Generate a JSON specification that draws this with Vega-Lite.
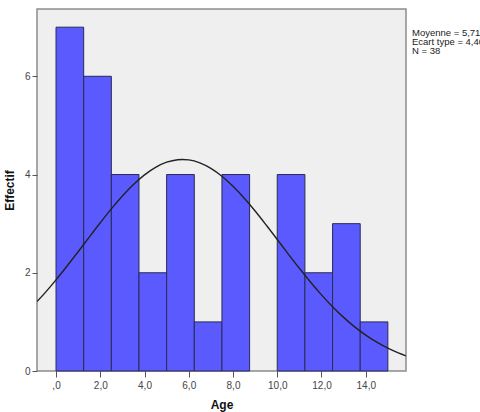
{
  "$schema": "https://vega.github.io/schema/vega-lite/v6.json",
  "width": 369,
  "height": 362,
  "autosize": "none",
  "padding": {"left": 37, "top": 9, "right": 74, "bottom": 41},
  "background": "white",
  "config": {
    "font": "Liberation Sans",
    "view": {"fill": "#efefef", "stroke": "#8c8c8c", "strokeWidth": 1.5}
  },
  "datasets": {
    "bins": [
      {"start": 0.0, "end": 1.25, "count": 7},
      {"start": 1.25, "end": 2.5, "count": 6},
      {"start": 2.5, "end": 3.75, "count": 4},
      {"start": 3.75, "end": 5.0, "count": 2},
      {"start": 5.0, "end": 6.25, "count": 4},
      {"start": 6.25, "end": 7.5, "count": 1},
      {"start": 7.5, "end": 8.75, "count": 4},
      {"start": 8.75, "end": 10.0, "count": 0},
      {"start": 10.0, "end": 11.25, "count": 4},
      {"start": 11.25, "end": 12.5, "count": 2},
      {"start": 12.5, "end": 13.75, "count": 3},
      {"start": 13.75, "end": 15.0, "count": 1}
    ],
    "normal": [
      {"age": -0.86, "y": 1.413}, {"age": -0.5, "y": 1.591}, {"age": 0, "y": 1.855},
      {"age": 0.5, "y": 2.137}, {"age": 1, "y": 2.428}, {"age": 1.5, "y": 2.725},
      {"age": 2, "y": 3.018}, {"age": 2.5, "y": 3.301}, {"age": 3, "y": 3.563},
      {"age": 3.5, "y": 3.797}, {"age": 4, "y": 3.994}, {"age": 4.5, "y": 4.147},
      {"age": 5, "y": 4.251}, {"age": 5.5, "y": 4.302}, {"age": 5.71, "y": 4.307},
      {"age": 6, "y": 4.298}, {"age": 6.5, "y": 4.238}, {"age": 7, "y": 4.126},
      {"age": 7.5, "y": 3.965}, {"age": 8, "y": 3.761}, {"age": 8.5, "y": 3.523},
      {"age": 9, "y": 3.257}, {"age": 9.5, "y": 2.972}, {"age": 10, "y": 2.678},
      {"age": 10.5, "y": 2.381}, {"age": 11, "y": 2.091}, {"age": 11.5, "y": 1.812},
      {"age": 12, "y": 1.55}, {"age": 12.5, "y": 1.309}, {"age": 13, "y": 1.092},
      {"age": 13.5, "y": 0.898}, {"age": 14, "y": 0.73}, {"age": 14.5, "y": 0.586},
      {"age": 15, "y": 0.464}, {"age": 15.5, "y": 0.362}, {"age": 15.82, "y": 0.307}
    ],
    "stats": [
      {"label": "Moyenne = 5,71\nEcart type = 4,40\nN = 38", "age": 16.09, "y": 6.98}
    ]
  },
  "layer": [
    {
      "data": {"name": "bins"},
      "transform": [{"filter": "datum.count > 0"}],
      "mark": {"type": "rect", "fill": "#5a5aff", "stroke": "#2a2a55", "strokeWidth": 1},
      "encoding": {
        "x": {
          "field": "start",
          "type": "quantitative",
          "scale": {"domain": [-0.86, 15.82], "nice": false, "zero": false},
          "axis": {
            "title": "Age",
            "titleFont": "Liberation Sans",
            "titleFontSize": 12,
            "titleFontWeight": "bold",
            "titleColor": "#111",
            "titlePadding": 9,
            "values": [0, 2, 4, 6, 8, 10, 12, 14],
            "labelExpr": "datum.value == 0 ? ',0' : replace(format(datum.value, '.1f'), '.', ',')",
            "labelFontSize": 10,
            "labelColor": "#444",
            "labelPadding": 3,
            "tickSize": 6,
            "tickColor": "#555",
            "domain": false,
            "grid": false
          }
        },
        "x2": {"field": "end"},
        "y": {
          "field": "count",
          "type": "quantitative",
          "scale": {"domain": [0, 7.37], "nice": false},
          "axis": {
            "title": "Effectif",
            "titleFont": "Liberation Sans",
            "titleFontSize": 12,
            "titleFontWeight": "bold",
            "titleColor": "#111",
            "titlePadding": 8,
            "values": [0, 2, 4, 6],
            "format": "d",
            "labelFontSize": 10,
            "labelColor": "#444",
            "labelPadding": 2,
            "tickSize": 5,
            "tickColor": "#555",
            "domain": false,
            "grid": false
          }
        },
        "y2": {"datum": 0}
      }
    },
    {
      "data": {"name": "normal"},
      "mark": {"type": "line", "color": "#222", "strokeWidth": 1.4, "interpolate": "monotone", "clip": true},
      "encoding": {
        "x": {"field": "age", "type": "quantitative"},
        "y": {"field": "y", "type": "quantitative"}
      }
    },
    {
      "data": {"name": "stats"},
      "mark": {
        "type": "text",
        "align": "left",
        "baseline": "top",
        "fontSize": 9.5,
        "lineHeight": 9,
        "lineBreak": "\n",
        "color": "#222",
        "clip": false
      },
      "encoding": {
        "x": {"field": "age", "type": "quantitative"},
        "y": {"field": "y", "type": "quantitative"},
        "text": {"field": "label"}
      }
    }
  ]
}
